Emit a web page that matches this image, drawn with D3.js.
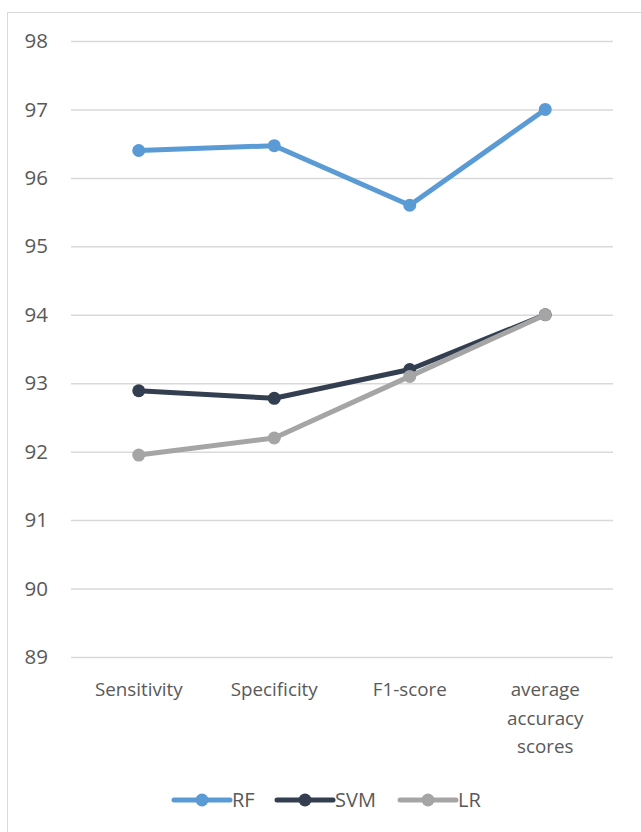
<!DOCTYPE html>
<html>
<head>
<meta charset="utf-8">
<script src="https://cdn.jsdelivr.net/npm/d3@7"></script>
<style>
  html, body { margin: 0; padding: 0; background: #fff; }
  svg { display: block; font-family: "Open Sans", "Noto Sans", sans-serif; }
</style>
</head>
<body>
<svg id="chart" width="641" height="832"></svg>
<script>
// Metric categories along the x axis (line breaks for wrapped labels)
const categories = ["Sensitivity", "Specificity", "F1-score", "average accuracy scores"];
const categoryLines = [["Sensitivity"], ["Specificity"], ["F1-score"], ["average", "accuracy", "scores"]];

// Series values per metric
const seriesNames = ["RF", "SVM", "LR"];
const rfValues  = [96.4, 96.47, 95.6, 97.0];
const svmValues = [92.89, 92.78, 93.2, 94.0];
const lrValues  = [91.95, 92.2, 93.1, 94.0];
const seriesColors = ["#5B9BD5", "#333F50", "#A5A5A5"];

// Y axis tick labels
const yTicks = [89, 90, 91, 92, 93, 94, 95, 96, 97, 98];

const series = [
  { name: seriesNames[0], values: rfValues,  color: seriesColors[0] },
  { name: seriesNames[1], values: svmValues, color: seriesColors[1] },
  { name: seriesNames[2], values: lrValues,  color: seriesColors[2] }
];

const svg = d3.select("#chart");

// Chart frame (open to the right and bottom)
svg.append("rect")
  .attr("x", 7.5).attr("y", 12.5)
  .attr("width", 700).attr("height", 900)
  .attr("fill", "none").attr("stroke", "#D9D9D9").attr("stroke-width", 1);

const plot = { left: 71, right: 613, top: 41, bottom: 657 };

const x = d3.scaleBand().domain(categories).range([plot.left, plot.right]);
const y = d3.scaleLinear().domain([89, 98]).range([plot.bottom, plot.top]);

// Horizontal gridlines + y labels
const yAxis = d3.axisLeft(y).tickValues(yTicks).tickSize(-(plot.right - plot.left)).tickPadding(23).tickFormat(d3.format("d"));
const yg = svg.append("g").attr("transform", `translate(${plot.left},0)`).call(yAxis);
yg.select(".domain").remove();
yg.selectAll(".tick line").attr("stroke", "#D9D9D9").attr("stroke-width", 1.5);
yg.selectAll(".tick text").attr("fill", "#595959").attr("font-size", 20.5)
  .attr("font-family", "Open Sans, sans-serif");

// X category labels
const xg = svg.append("g");
categories.forEach((c, i) => {
  const t = xg.append("text")
    .attr("x", x(c) + x.bandwidth() / 2)
    .attr("y", 696)
    .attr("text-anchor", "middle")
    .attr("fill", "#595959")
    .attr("font-size", 18.8);
  categoryLines[i].forEach((ln, j) => {
    t.append("tspan").attr("x", x(c) + x.bandwidth() / 2).attr("dy", j === 0 ? 0 : 28.5).text(ln);
  });
});

// Lines and markers
const line = d3.line()
  .x((d, i) => x(categories[i]) + x.bandwidth() / 2)
  .y(d => y(d));

series.forEach(s => {
  const g = svg.append("g");
  g.append("path")
    .attr("d", line(s.values))
    .attr("fill", "none")
    .attr("stroke", s.color)
    .attr("stroke-width", 5)
    .attr("stroke-linejoin", "round")
    .attr("stroke-linecap", "round");
  g.selectAll("circle").data(s.values).enter().append("circle")
    .attr("cx", (d, i) => x(categories[i]) + x.bandwidth() / 2)
    .attr("cy", d => y(d))
    .attr("r", 6.5)
    .attr("fill", s.color);
});

// Legend
const legendX = [174, 277, 400];
const legend = svg.append("g");
series.forEach((s, i) => {
  const lg = legend.append("g").attr("transform", `translate(${legendX[i]},800)`);
  lg.append("line").attr("x1", 0).attr("x2", 56).attr("y1", 0).attr("y2", 0)
    .attr("stroke", s.color).attr("stroke-width", 5).attr("stroke-linecap", "round");
  lg.append("circle").attr("cx", 28).attr("cy", 0).attr("r", 6.5).attr("fill", s.color);
  lg.append("text").attr("x", 58).attr("y", 0).attr("dy", "0.36em")
    .attr("fill", "#595959").attr("font-size", 20).text(s.name);
});
</script>
</body>
</html>
